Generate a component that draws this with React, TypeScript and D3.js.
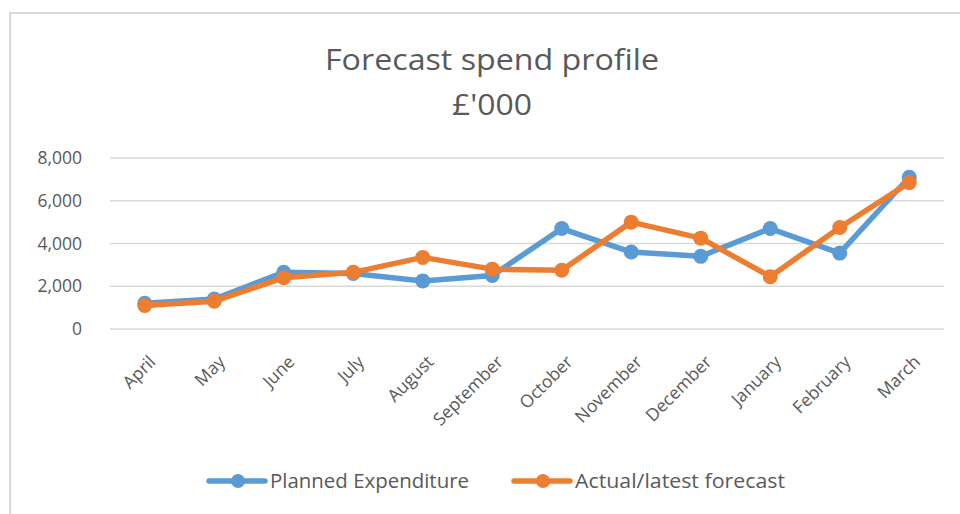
import React, { useEffect, useRef } from "react";
import * as d3 from "d3";

const months = [
  "April", "May", "June", "July", "August", "September",
  "October", "November", "December", "January", "February", "March",
];
const planned = [1200, 1400, 2650, 2600, 2250, 2500, 4700, 3600, 3400, 4700, 3550, 7100];
const actual = [1100, 1300, 2400, 2650, 3350, 2800, 2750, 5000, 4250, 2450, 4750, 6850];
const yTicks = [0, 2000, 4000, 6000, 8000];
const seriesNames = ["Planned Expenditure", "Actual/latest forecast"];
const seriesColors = ["#5B9BD5", "#ED7D31"];

function App() {
  const ref = useRef<SVGSVGElement>(null);

  useEffect(() => {
    const svg = d3.select(ref.current);
    svg.selectAll("*").remove();
    const font = "'Open Sans', 'DejaVu Sans', sans-serif";
    const grey = "#595959";

    // chart frame
    svg.append("rect")
      .attr("x", 10).attr("y", 13)
      .attr("width", 960).attr("height", 520)
      .attr("fill", "#fff")
      .attr("stroke", "#d9d9d9").attr("stroke-width", 2);

    // title
    const title = svg.append("g")
      .attr("font-family", font).attr("fill", grey)
      .attr("text-anchor", "middle");
    title.append("text").attr("x", 492).attr("y", 70)
      .attr("font-size", 29).attr("textLength", 334)
      .attr("lengthAdjust", "spacingAndGlyphs")
      .text("Forecast spend profile");
    title.append("text").attr("x", 492).attr("y", 115)
      .attr("font-size", 29).attr("textLength", 80)
      .attr("lengthAdjust", "spacingAndGlyphs")
      .text("£'000");

    const x = d3.scaleBand().domain(months).range([110, 944]);
    const y = d3.scaleLinear().domain([0, 8000]).range([329, 158]);
    const cx = (m: string) => (x(m) as number) + x.bandwidth() / 2;

    // gridlines + y labels
    const yAxis = svg.append("g");
    yAxis.selectAll("line").data(yTicks).join("line")
      .attr("x1", 110).attr("x2", 944)
      .attr("y1", (d) => y(d)).attr("y2", (d) => y(d))
      .attr("stroke", "#d9d9d9").attr("stroke-width", 1.5);
    yAxis.selectAll("text").data(yTicks).join("text")
      .attr("x", 82).attr("y", (d) => y(d))
      .attr("dy", "0.35em").attr("text-anchor", "end")
      .attr("font-family", font).attr("font-size", 17.5).attr("fill", grey)
      .text((d) => d3.format(",")(d));

    // x labels, rotated
    svg.append("g").selectAll("text").data(months).join("text")
      .attr("transform", (d) => `translate(${cx(d) + 12},${363}) rotate(-45)`)
      .attr("text-anchor", "end")
      .attr("font-family", font).attr("font-size", 17.5).attr("fill", grey)
      .text((d) => d);

    // series
    const line = d3.line<number>()
      .x((_, i) => cx(months[i]))
      .y((d) => y(d));
    [planned, actual].forEach((vals, s) => {
      const g = svg.append("g");
      g.append("path").attr("d", line(vals))
        .attr("fill", "none").attr("stroke", seriesColors[s])
        .attr("stroke-width", 5.5).attr("stroke-linejoin", "round")
        .attr("stroke-linecap", "round");
      g.selectAll("circle").data(vals).join("circle")
        .attr("cx", (_, i) => cx(months[i])).attr("cy", (d) => y(d))
        .attr("r", 7.5).attr("fill", seriesColors[s]);
    });

    // legend
    const legendX = [209, 514];
    const legendW = [199, 210];
    seriesNames.forEach((name, s) => {
      const g = svg.append("g").attr("transform", `translate(${legendX[s]},481)`);
      g.append("line").attr("x1", 0).attr("x2", 56)
        .attr("stroke", seriesColors[s]).attr("stroke-width", 5.5)
        .attr("stroke-linecap", "round");
      g.append("circle").attr("cx", 29).attr("r", 7).attr("fill", seriesColors[s]);
      g.append("text").attr("x", 61).attr("dy", "0.35em")
        .attr("font-family", font).attr("font-size", 20).attr("fill", grey)
        .attr("textLength", legendW[s]).attr("lengthAdjust", "spacingAndGlyphs")
        .text(name);
    });
  }, []);

  return (
    <svg
      ref={ref}
      width={960}
      height={514}
      style={{ position: "absolute", left: 0, top: 0, display: "block", background: "#fff" }}
    />
  );
}

export default App;
